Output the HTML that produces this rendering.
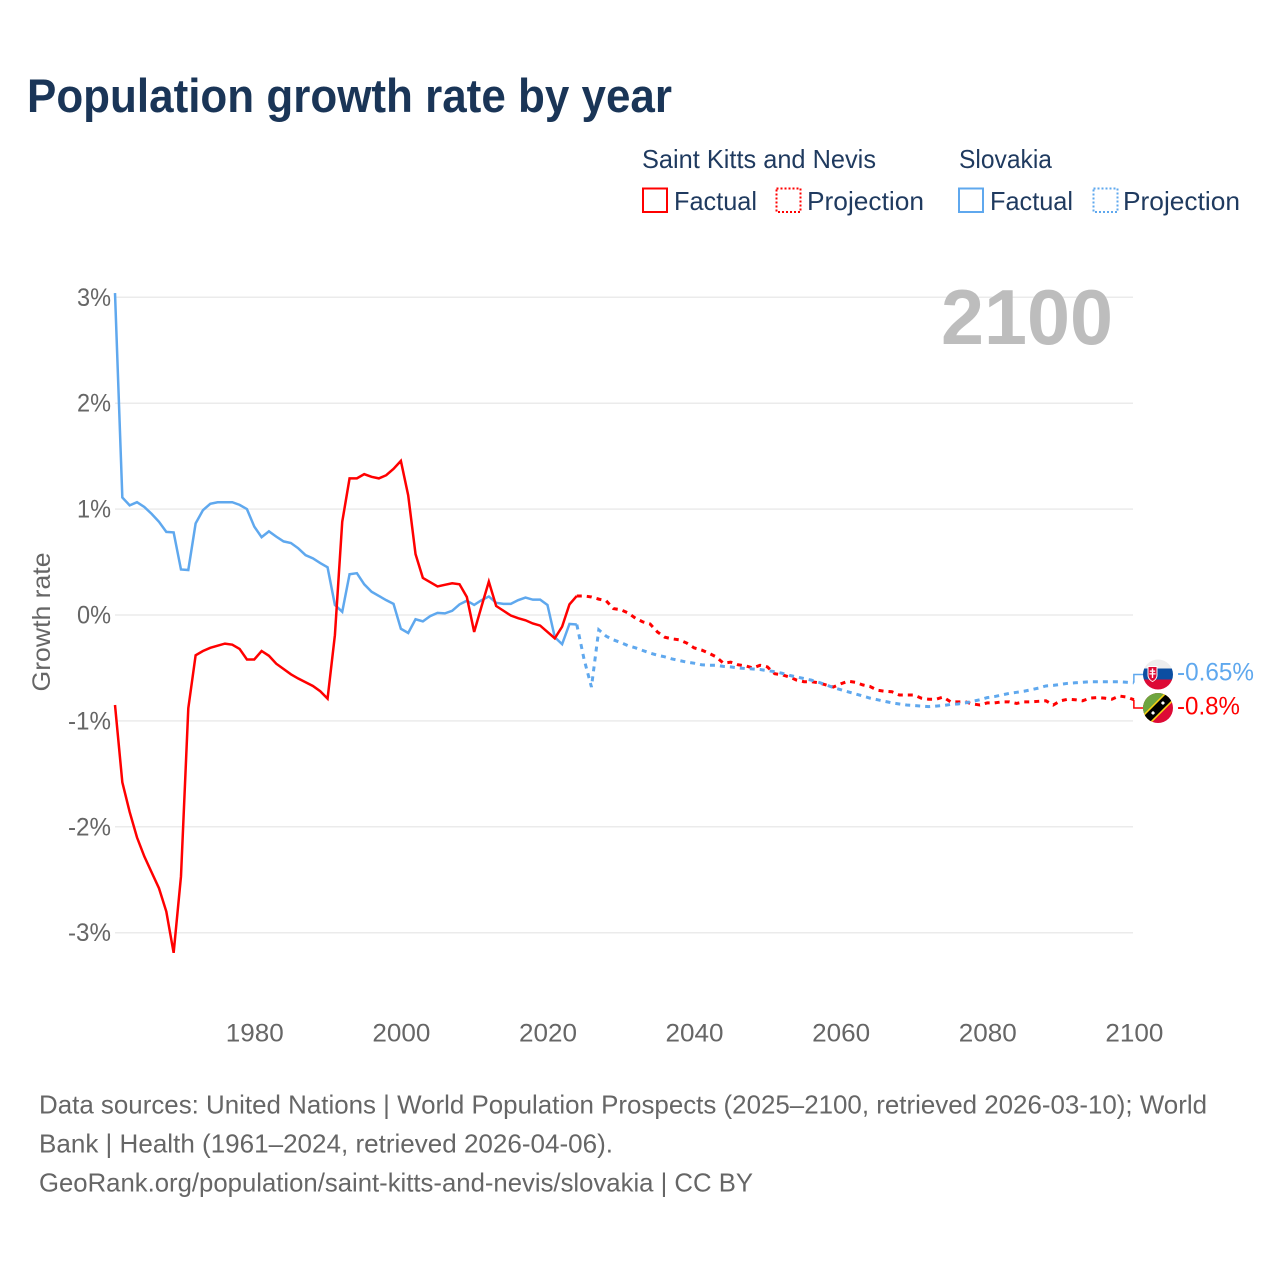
<!DOCTYPE html>
<html lang="en">
<head>
<meta charset="utf-8">
<title>Population growth rate by year</title>
<style>
html,body{margin:0;padding:0;background:#fff;}
svg{display:block;}
text{font-family:"Liberation Sans",sans-serif;}
</style>
</head>
<body>
<svg id="chart" xmlns="http://www.w3.org/2000/svg" width="1280" height="1280" viewBox="0 0 1280 1280">
  <defs>
    <clipPath id="clip-sk"><circle cx="1158" cy="674.5" r="15"/></clipPath>
    <clipPath id="clip-kn"><circle cx="1158" cy="708" r="15"/></clipPath>
  </defs>
  <rect width="1280" height="1280" fill="#fff"/>
  <text x="27" y="112" font-size="47" font-weight="700" fill="#1a3557" textLength="645" lengthAdjust="spacingAndGlyphs">Population growth rate by year</text>

  <g fill="#1f3a5f" font-size="26">
    <text x="642" y="168" textLength="234" lengthAdjust="spacingAndGlyphs">Saint Kitts and Nevis</text>
    <text x="959" y="168" textLength="93" lengthAdjust="spacingAndGlyphs">Slovakia</text>
    <rect x="643" y="188.5" width="24" height="23.5" fill="none" stroke="#ff0000" stroke-width="2"/>
    <text x="674" y="210" textLength="83" lengthAdjust="spacingAndGlyphs">Factual</text>
    <rect x="776.5" y="188.5" width="24" height="23.5" fill="none" stroke="#ff0000" stroke-width="2" stroke-dasharray="2 2"/>
    <text x="807" y="210" textLength="117" lengthAdjust="spacingAndGlyphs">Projection</text>
    <rect x="959" y="188.5" width="24" height="23.5" fill="none" stroke="#5fa8ee" stroke-width="2"/>
    <text x="990" y="210" textLength="83" lengthAdjust="spacingAndGlyphs">Factual</text>
    <rect x="1093.5" y="188.5" width="24" height="23.5" fill="none" stroke="#5fa8ee" stroke-width="2" stroke-dasharray="2 2"/>
    <text x="1123" y="210" textLength="117" lengthAdjust="spacingAndGlyphs">Projection</text>
  </g>

  <g id="grid"></g>
  <text x="1113" y="344" text-anchor="end" font-size="78" font-weight="700" fill="#bdbdbd" textLength="172" lengthAdjust="spacingAndGlyphs">2100</text>
  <g id="y-axis"></g>
  <g id="x-axis"></g>
  <text transform="translate(50 622) rotate(-90)" text-anchor="middle" font-size="25" fill="#666" textLength="139" lengthAdjust="spacingAndGlyphs">Growth rate</text>
  <g id="series"></g>

  <g clip-path="url(#clip-sk)">
    <rect x="1143" y="659" width="30" height="10" fill="#eeeeee"/>
    <rect x="1143" y="668.5" width="30" height="11" fill="#0b4ea2"/>
    <rect x="1143" y="679.5" width="30" height="11" fill="#dd0a35"/>
    <path d="M1147.5 666h10v9c0 4-3 6-5 7c-2-1-5-3-5-7z" fill="#fff"/>
    <path d="M1148.5 667h8v8c0 3-2 5-4 6c-2-1-4-3-4-6z" fill="#dd0a35"/>
    <path d="M1151.8 668.5h1.4v2h2v1.3h-2v1.4h2.4v1.3h-2.4v3.5h-1.4v-3.5h-2.4v-1.3h2.4v-1.4h-2v-1.3h2z" fill="#fff"/>
  </g>
  <g clip-path="url(#clip-kn)">
    <rect x="1143" y="693" width="30" height="30" fill="#dd0a35"/>
    <polygon points="1143,693 1173,693 1143,723" fill="#6ea53f"/>
    <g transform="rotate(-45 1158 708)">
      <rect x="1138" y="702.2" width="40" height="11.6" fill="#f7d116"/>
      <rect x="1138" y="703.8" width="40" height="8.4" fill="#000"/>
      <circle cx="1151" cy="708" r="1.6" fill="#fff"/>
      <circle cx="1165" cy="708" r="1.6" fill="#fff"/>
    </g>
  </g>

  <text id="label-sk" x="1177" y="680.5" font-size="25" fill="#5fa8ee" textLength="77" lengthAdjust="spacingAndGlyphs">-0.65%</text>
  <text id="label-kn" x="1177" y="714.5" font-size="25" fill="#ff0000" textLength="63" lengthAdjust="spacingAndGlyphs">-0.8%</text>

  <g font-size="26" fill="#666">
    <text x="39" y="1113.5" textLength="1168" lengthAdjust="spacingAndGlyphs">Data sources: United Nations | World Population Prospects (2025–2100, retrieved 2026-03-10); World</text>
    <text x="39" y="1152.5" textLength="574" lengthAdjust="spacingAndGlyphs">Bank | Health (1961–2024, retrieved 2026-04-06).</text>
    <text x="39" y="1191.5" textLength="714" lengthAdjust="spacingAndGlyphs">GeoRank.org/population/saint-kitts-and-nevis/slovakia | CC BY</text>
  </g>
</svg>
<script>
const yTickValues = [3, 2, 1, 0, -1, -2, -3];
const xTickYears = [1980, 2000, 2020, 2040, 2060, 2080, 2100];
const factualStartYear = 1961;
const projectionStartYear = 2024;

const kittsFactual = [-0.85,-1.58,-1.86,-2.10,-2.28,-2.43,-2.58,-2.80,-3.19,-2.47,-0.88,-0.38,-0.34,-0.31,-0.29,-0.27,-0.28,-0.32,-0.42,-0.42,
-0.34,-0.385,-0.46,-0.51,-0.56,-0.60,-0.635,-0.67,-0.72,-0.79,-0.19,0.88,1.29,1.29,1.33,1.305,1.29,1.32,1.38,1.455,
1.13,0.575,0.35,0.31,0.27,0.285,0.30,0.29,0.17,-0.16,0.08,0.315,0.085,0.04,-0.005,-0.03,-0.05,-0.08,-0.10,-0.16,
-0.22,-0.11,0.10,0.18];
const kittsProjection = [0.18,0.18,0.17,0.15,0.135,0.06,0.05,0.02,-0.03,-0.065,-0.085,-0.16,-0.21,-0.225,-0.235,-0.265,-0.31,-0.33,-0.36,-0.395,
-0.455,-0.445,-0.47,-0.48,-0.50,-0.475,-0.49,-0.555,-0.565,-0.585,-0.615,-0.63,-0.63,-0.64,-0.66,-0.68,-0.65,-0.625,-0.635,-0.66,
-0.675,-0.71,-0.72,-0.725,-0.755,-0.755,-0.755,-0.785,-0.795,-0.795,-0.775,-0.82,-0.82,-0.82,-0.84,-0.85,-0.83,-0.83,-0.82,-0.82,
-0.835,-0.82,-0.82,-0.815,-0.81,-0.85,-0.81,-0.795,-0.80,-0.81,-0.785,-0.78,-0.785,-0.795,-0.765,-0.775,-0.80];
const slovakiaFactual = [3.04,1.11,1.035,1.065,1.02,0.955,0.88,0.785,0.78,0.43,0.425,0.865,0.99,1.05,1.065,1.065,1.065,1.04,1.0,0.835,
0.735,0.79,0.74,0.695,0.68,0.63,0.565,0.535,0.49,0.45,0.095,0.03,0.385,0.395,0.29,0.22,0.18,0.14,0.105,-0.13,
-0.17,-0.04,-0.06,-0.01,0.02,0.015,0.04,0.10,0.135,0.095,0.14,0.175,0.115,0.105,0.105,0.14,0.165,0.145,0.145,0.095,
-0.21,-0.275,-0.085,-0.09];
const slovakiaProjection = [-0.09,-0.42,-0.68,-0.14,-0.20,-0.235,-0.26,-0.29,-0.31,-0.335,-0.36,-0.38,-0.395,-0.415,-0.43,-0.445,-0.455,-0.47,-0.475,-0.475,
-0.485,-0.49,-0.50,-0.505,-0.51,-0.515,-0.525,-0.535,-0.55,-0.57,-0.585,-0.60,-0.615,-0.635,-0.66,-0.685,-0.705,-0.725,-0.745,-0.765,
-0.785,-0.80,-0.815,-0.83,-0.84,-0.85,-0.855,-0.86,-0.865,-0.86,-0.855,-0.845,-0.84,-0.83,-0.815,-0.80,-0.78,-0.77,-0.755,-0.74,
-0.73,-0.72,-0.705,-0.69,-0.67,-0.665,-0.655,-0.645,-0.64,-0.635,-0.63,-0.63,-0.63,-0.63,-0.63,-0.635,-0.64];

const SVG_NS = 'http://www.w3.org/2000/svg';
const xScale = function (year) { return 115 + (year - 1961) * 7.33; };
const yScale = function (pct) { return 615 - pct * 105.9; };

function svgEl(tag, parent) {
  const el = document.createElementNS(SVG_NS, tag);
  parent.appendChild(el);
  return el;
}

function linePath(values, startYear) {
  return values.map(function (v, i) {
    return (i ? 'L' : 'M') + xScale(startYear + i).toFixed(2) + ' ' + yScale(v).toFixed(2);
  }).join('');
}

const gridGroup = document.getElementById('grid');
const yAxisGroup = document.getElementById('y-axis');
const xAxisGroup = document.getElementById('x-axis');
const seriesGroup = document.getElementById('series');

yTickValues.forEach(function (v) {
  const line = svgEl('line', gridGroup);
  
  
  line.setAttribute('x1', 115);
  line.setAttribute('x2', 1133);
  line.setAttribute('y1', yScale(v));
  line.setAttribute('y2', yScale(v));
  line.setAttribute('stroke', '#ebebeb');
  line.setAttribute('stroke-width', '1.5');

  const label = svgEl('text', yAxisGroup);
  
  
  label.setAttribute('x', 111);
  label.setAttribute('y', yScale(v) + 8.5);
  label.setAttribute('text-anchor', 'end');
  label.setAttribute('font-size', '25');
  label.setAttribute('fill', '#666');
  label.setAttribute('textLength', v < 0 ? 43 : 34);
  label.setAttribute('lengthAdjust', 'spacingAndGlyphs');
  label.textContent = v + '%';
});

xTickYears.forEach(function (year) {
  const label = svgEl('text', xAxisGroup);
  
  
  label.setAttribute('x', xScale(year) + 0.5);
  label.setAttribute('y', 1041.5);
  label.setAttribute('text-anchor', 'middle');
  label.setAttribute('font-size', '25');
  label.setAttribute('fill', '#666');
  label.setAttribute('textLength', 58);
  label.setAttribute('lengthAdjust', 'spacingAndGlyphs');
  label.textContent = year;
});

const slovakiaFactualLine = svgEl('path', seriesGroup);


slovakiaFactualLine.setAttribute('d', linePath(slovakiaFactual, factualStartYear));
slovakiaFactualLine.setAttribute('fill', 'none');
slovakiaFactualLine.setAttribute('stroke', '#5fa8ee');
slovakiaFactualLine.setAttribute('stroke-width', '2.5');

const kittsFactualLine = svgEl('path', seriesGroup);


kittsFactualLine.setAttribute('d', linePath(kittsFactual, factualStartYear));
kittsFactualLine.setAttribute('fill', 'none');
kittsFactualLine.setAttribute('stroke', '#ff0000');
kittsFactualLine.setAttribute('stroke-width', '2.5');

const kittsProjectionLine = svgEl('path', seriesGroup);


kittsProjectionLine.setAttribute('d', linePath(kittsProjection, projectionStartYear));
kittsProjectionLine.setAttribute('fill', 'none');
kittsProjectionLine.setAttribute('stroke', '#ff0000');
kittsProjectionLine.setAttribute('stroke-width', '3');
kittsProjectionLine.setAttribute('stroke-dasharray', '5 5');

const slovakiaProjectionLine = svgEl('path', seriesGroup);


slovakiaProjectionLine.setAttribute('d', linePath(slovakiaProjection, projectionStartYear));
slovakiaProjectionLine.setAttribute('fill', 'none');
slovakiaProjectionLine.setAttribute('stroke', '#5fa8ee');
slovakiaProjectionLine.setAttribute('stroke-width', '3');
slovakiaProjectionLine.setAttribute('stroke-dasharray', '5 5');

const lastX = xScale(2100);
const kittsConnector = svgEl('path', seriesGroup);


kittsConnector.setAttribute('d', 'M' + lastX + ' ' + yScale(kittsProjection[kittsProjection.length - 1]) + 'V708H1143');
kittsConnector.setAttribute('fill', 'none');
kittsConnector.setAttribute('stroke', '#ff0000');
kittsConnector.setAttribute('stroke-width', '1.5');

const slovakiaConnector = svgEl('path', seriesGroup);


slovakiaConnector.setAttribute('d', 'M' + lastX + ' ' + yScale(slovakiaProjection[slovakiaProjection.length - 1]) + 'V674.5H1143');
slovakiaConnector.setAttribute('fill', 'none');
slovakiaConnector.setAttribute('stroke', '#5fa8ee');
slovakiaConnector.setAttribute('stroke-width', '1.5');
</script>
</body>
</html>
